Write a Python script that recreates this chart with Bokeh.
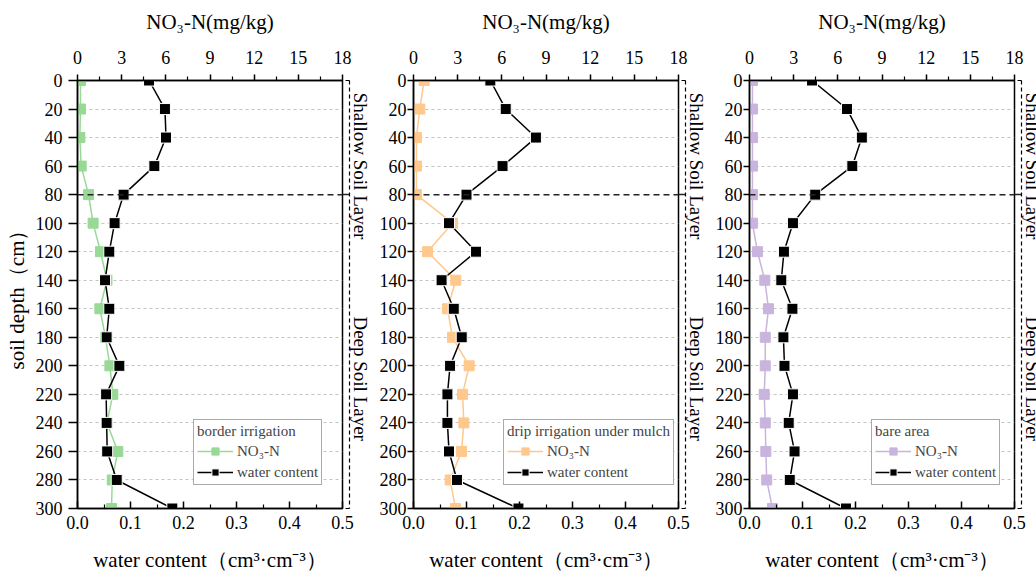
import math
from bokeh.plotting import figure
from bokeh.models import (Range1d, LinearAxis, FixedTicker, PrintfTickFormatter,
                          Legend, LegendItem, Span)
from bokeh.layouts import row
from bokeh.embed import file_html
from bokeh.resources import INLINE

# ---------------- data ----------------
depth = [0, 20, 40, 60, 80, 100, 120, 140, 160, 180, 200, 220, 240, 260, 280, 300]

wc_border = [0.135, 0.165, 0.167, 0.145, 0.087, 0.070, 0.060, 0.052, 0.060, 0.055,
             0.079, 0.054, 0.055, 0.056, 0.074, 0.179]
no3_border = [0.2, 0.2, 0.16, 0.25, 0.75, 1.06, 1.56, 2.0, 1.52, 1.9,
              2.2, 2.4, 2.0, 2.74, 2.36, 2.31]

wc_drip = [0.145, 0.174, 0.231, 0.168, 0.100, 0.067, 0.118, 0.053, 0.076, 0.091,
           0.069, 0.064, 0.064, 0.067, 0.082, 0.198]
no3_drip = [0.72, 0.43, 0.2, 0.2, 0.2, 2.65, 0.95, 2.87, 2.31, 2.65,
            3.78, 3.33, 3.42, 3.26, 2.49, 2.85]

wc_bare = [0.118, 0.184, 0.212, 0.194, 0.124, 0.082, 0.065, 0.060, 0.081, 0.064,
           0.066, 0.082, 0.074, 0.085, 0.076, 0.182]
no3_bare = [0.2, 0.2, 0.2, 0.2, 0.2, 0.2, 0.54, 1.04, 1.29, 1.07,
            1.07, 1.0, 1.07, 1.11, 1.17, 1.56]

treatments = ["border irrigation", "drip irrigation under mulch", "bare area"]
series_wc = [wc_border, wc_drip, wc_bare]
series_no3 = [no3_border, no3_drip, no3_bare]

depth_ticks = [0, 20, 40, 60, 80, 100, 120, 140, 160, 180, 200, 220, 240, 260, 280, 300]
wc_ticks = [0, 0.1, 0.2, 0.3, 0.4, 0.5]
wc_minor = [0.05, 0.15, 0.25, 0.35, 0.45]
no3_ticks = [0, 3, 6, 9, 12, 15, 18]
no3_minor = [1.5, 4.5, 7.5, 10.5, 13.5, 16.5]
layer_boundary = 80
layer_labels = ["Shallow Soil Layer", "Deep Soil Layer"]
layer_label_depth = [60, 209]

# ---------------- style ----------------
FONT = "Liberation Serif"
COLORS = ["#99d996", "#ffc88c", "#c8b4dc"]
FRAME_W, FRAME_H = 265, 428
WC_MAX, NO3_MAX, DEPTH_MAX = 0.5, 18, 300
borders = [(77, 34), (36, 34), (36, 24)]
ytick_len = [9, 6, 6]
ytick_standoff = [6, 1, 1]
BRACKET_GAP = 7
legend_pos = [(116, 23), (90, 23), (122, 23)]


def style_axis(ax):
    ax.axis_line_width = 1.5
    ax.axis_line_color = "black"
    ax.major_tick_line_width = 1.5
    ax.minor_tick_line_width = 1.2
    ax.major_label_text_font = FONT
    ax.major_label_text_font_size = "18px"
    ax.major_label_text_color = "black"
    ax.axis_label_text_font = FONT
    ax.axis_label_text_font_size = "21px"
    ax.axis_label_text_font_style = "normal"
    ax.axis_label_text_color = "black"


def make_panel(i):
    lb, rb = borders[i]
    p = figure(frame_width=FRAME_W, frame_height=FRAME_H,
               x_range=Range1d(0, WC_MAX), y_range=Range1d(DEPTH_MAX, 0),
               output_backend="svg", toolbar_location=None, tools="",
               min_border_left=lb, min_border_right=rb,
               min_border_top=80, min_border_bottom=67,
               background_fill_color="white", border_fill_color="white")
    p.outline_line_color = "black"
    p.outline_line_width = 1.5

    # top axis: nitrate
    p.extra_x_ranges = {"no3": Range1d(0, NO3_MAX)}
    top = LinearAxis(x_range_name="no3", axis_label="NO₃-N(mg/kg)",
                     ticker=FixedTicker(ticks=no3_ticks, minor_ticks=no3_minor))
    style_axis(top)
    top.major_tick_out = 6
    top.major_tick_in = 0
    top.minor_tick_out = 4
    top.minor_tick_in = 0
    top.major_label_standoff = 11
    top.axis_label_standoff = 14
    p.add_layout(top, "above")

    # bottom axis: water content
    xb = p.below[0]
    style_axis(xb)
    xb.ticker = FixedTicker(ticks=wc_ticks, minor_ticks=wc_minor)
    xb.formatter = PrintfTickFormatter(format="%.1f")
    xb.major_tick_in = 7
    xb.major_tick_out = 0
    xb.minor_tick_in = 4
    xb.minor_tick_out = 0
    xb.major_label_standoff = 7
    xb.axis_label_standoff = 16
    xb.axis_label = "water content（cm³·cm⁻³）"

    # left axis: depth
    yl = p.left[0]
    style_axis(yl)
    yl.ticker = FixedTicker(ticks=depth_ticks, minor_ticks=[])
    yl.major_tick_out = ytick_len[i]
    yl.major_tick_in = 0
    yl.minor_tick_out = 0
    yl.minor_tick_in = 0
    yl.major_label_standoff = ytick_standoff[i]
    yl.axis_label_standoff = 4
    if i == 0:
        yl.axis_label = "soil depth（cm）"

    # right side: spacer (carries the boundary tick) + dashed bracket with layer names
    spacer = LinearAxis(ticker=FixedTicker(ticks=[layer_boundary], minor_ticks=[]),
                        major_label_overrides={layer_boundary: ""})
    spacer.axis_line_color = None
    spacer.major_tick_out = BRACKET_GAP
    spacer.major_tick_in = 0
    spacer.major_tick_line_width = 1.5
    spacer.major_tick_line_color = "#222222"
    spacer.minor_tick_out = 0
    spacer.minor_tick_in = 0
    spacer.major_label_standoff = 0
    spacer.major_label_text_font_size = "0px"
    p.add_layout(spacer, "right")

    bracket = LinearAxis(ticker=FixedTicker(ticks=layer_label_depth,
                                            minor_ticks=[0, DEPTH_MAX]),
                         major_label_overrides=dict(zip(layer_label_depth, layer_labels)))
    bracket.axis_line_color = "black"
    bracket.axis_line_dash = "4 3"
    bracket.axis_line_width = 1.2
    bracket.major_tick_in = 0
    bracket.major_tick_out = 0
    bracket.minor_tick_in = 4
    bracket.minor_tick_out = 0
    bracket.minor_tick_line_width = 1.2
    bracket.minor_tick_line_color = "black"
    bracket.major_label_orientation = "vertical"
    bracket.major_label_standoff = 0
    bracket.major_label_text_font = FONT
    bracket.major_label_text_font_size = "19px"
    bracket.major_label_text_color = "black"
    p.add_layout(bracket, "right")

    # grid
    p.xgrid.visible = False
    p.ygrid.ticker = FixedTicker(ticks=[d for d in depth_ticks
                                        if d not in (0, layer_boundary, DEPTH_MAX)])
    p.ygrid.grid_line_color = "#c4c4c4"
    p.ygrid.grid_line_dash = "3 3"
    p.ygrid.grid_line_width = 1

    p.add_layout(Span(location=layer_boundary, dimension="width",
                      line_dash="6 4", line_width=1.5, line_color="#222222"))

    col = COLORS[i]
    l1 = p.line(series_no3[i], depth, x_range_name="no3", line_color=col, line_width=1.5)
    s1 = p.scatter(series_no3[i], depth, x_range_name="no3", marker="square", size=10,
                   fill_color=col, line_color=col)
    l2 = p.line(series_wc[i], depth, line_color="black", line_width=1.5)
    s2 = p.scatter(series_wc[i], depth, marker="square", size=11,
                   fill_color="black", line_color="white", line_width=1)

    legend = Legend(items=[LegendItem(label="NO₃-N", renderers=[l1, s1]),
                           LegendItem(label="water content", renderers=[l2, s2])],
                    title=treatments[i], location=legend_pos[i])
    legend.title_text_font = FONT
    legend.title_text_font_size = "15px"
    legend.title_text_font_style = "normal"
    legend.title_standoff = 2
    legend.label_text_font = FONT
    legend.label_text_font_size = "15px"
    legend.glyph_width = 36
    legend.glyph_height = 18
    legend.label_standoff = 4
    legend.label_height = 18
    legend.padding = 3
    legend.spacing = 3
    legend.margin = 0
    legend.border_line_color = "#555555"
    legend.border_line_width = 1
    legend.background_fill_alpha = 1
    p.add_layout(legend)
    return p


panels = [make_panel(i) for i in range(3)]
layout = row(*panels)

open("out.html", "w").write(file_html(layout, INLINE))
